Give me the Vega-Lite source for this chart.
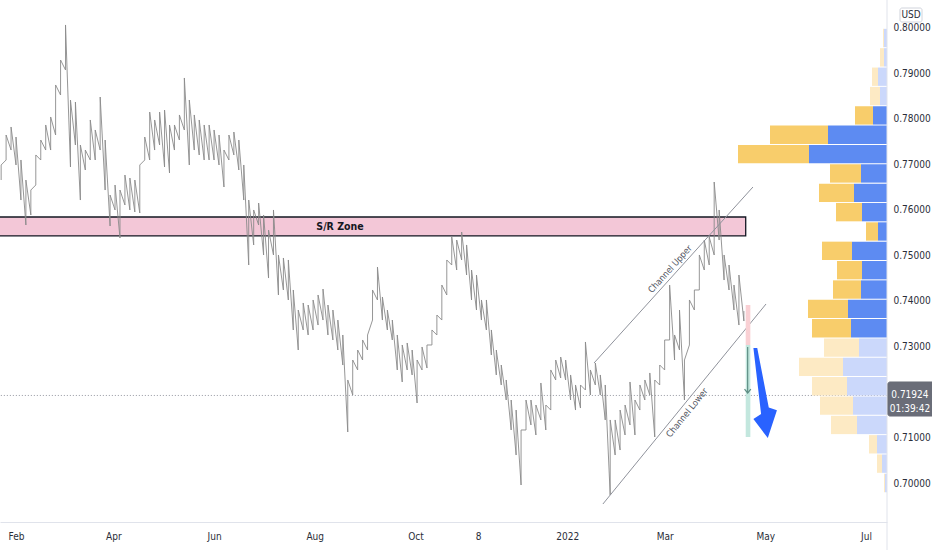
{
  "$schema": "https://vega.github.io/schema/vega-lite/v6.json",
  "width": 887,
  "height": 522,
  "autosize": {"type": "none"},
  "padding": {"left": 0, "top": 0, "right": 45, "bottom": 28},
  "background": "white",
  "config": {
    "view": {"stroke": null},
    "text": {"font": "DejaVu Sans Condensed, Roboto, sans-serif"},
    "axis": {"labelFont": "DejaVu Sans Condensed, Roboto, sans-serif"}
  },
  "datasets": {
    "price": [
      {"d": "2021-01-23", "lo": 0.76659, "hi": 0.76989},
      {"d": "2021-01-26", "lo": 0.77099, "hi": 0.77648},
      {"d": "2021-01-29", "lo": 0.77318, "hi": 0.77824},
      {"d": "2021-02-01", "lo": 0.76989, "hi": 0.77604},
      {"d": "2021-02-04", "lo": 0.76219, "hi": 0.77099},
      {"d": "2021-02-07", "lo": 0.75670, "hi": 0.76659},
      {"d": "2021-02-10", "lo": 0.75890, "hi": 0.76439},
      {"d": "2021-02-13", "lo": 0.76549, "hi": 0.77209},
      {"d": "2021-02-16", "lo": 0.77099, "hi": 0.77538},
      {"d": "2021-02-19", "lo": 0.77318, "hi": 0.77868},
      {"d": "2021-02-22", "lo": 0.77318, "hi": 0.78044},
      {"d": "2021-02-25", "lo": 0.77648, "hi": 0.78747},
      {"d": "2021-02-28", "lo": 0.78527, "hi": 0.79296},
      {"d": "2021-03-03", "lo": 0.79077, "hi": 0.80066},
      {"d": "2021-03-06", "lo": 0.76945, "hi": 0.78417},
      {"d": "2021-03-09", "lo": 0.77428, "hi": 0.78373},
      {"d": "2021-03-12", "lo": 0.76219, "hi": 0.77428},
      {"d": "2021-03-15", "lo": 0.76879, "hi": 0.77318},
      {"d": "2021-03-18", "lo": 0.77099, "hi": 0.77978},
      {"d": "2021-03-21", "lo": 0.77099, "hi": 0.77758},
      {"d": "2021-03-24", "lo": 0.77318, "hi": 0.78483},
      {"d": "2021-03-27", "lo": 0.76439, "hi": 0.77538},
      {"d": "2021-03-30", "lo": 0.75648, "hi": 0.76329},
      {"d": "2021-04-02", "lo": 0.76000, "hi": 0.76549},
      {"d": "2021-04-05", "lo": 0.75384, "hi": 0.76439},
      {"d": "2021-04-08", "lo": 0.76110, "hi": 0.76769},
      {"d": "2021-04-11", "lo": 0.76000, "hi": 0.76703},
      {"d": "2021-04-14", "lo": 0.75956, "hi": 0.76659},
      {"d": "2021-04-17", "lo": 0.75934, "hi": 0.76989},
      {"d": "2021-04-20", "lo": 0.77099, "hi": 0.77604},
      {"d": "2021-04-23", "lo": 0.77099, "hi": 0.78153},
      {"d": "2021-04-26", "lo": 0.77318, "hi": 0.77978},
      {"d": "2021-04-29", "lo": 0.77428, "hi": 0.78153},
      {"d": "2021-05-02", "lo": 0.76945, "hi": 0.78197},
      {"d": "2021-05-05", "lo": 0.76813, "hi": 0.77868},
      {"d": "2021-05-08", "lo": 0.77318, "hi": 0.77868},
      {"d": "2021-05-11", "lo": 0.77538, "hi": 0.78088},
      {"d": "2021-05-14", "lo": 0.77758, "hi": 0.78901},
      {"d": "2021-05-17", "lo": 0.76989, "hi": 0.78417},
      {"d": "2021-05-20", "lo": 0.77318, "hi": 0.78088},
      {"d": "2021-05-23", "lo": 0.77209, "hi": 0.77978},
      {"d": "2021-05-26", "lo": 0.77099, "hi": 0.77868},
      {"d": "2021-05-29", "lo": 0.77099, "hi": 0.77868},
      {"d": "2021-06-01", "lo": 0.77099, "hi": 0.77758},
      {"d": "2021-06-04", "lo": 0.76989, "hi": 0.77648},
      {"d": "2021-06-07", "lo": 0.76505, "hi": 0.77318},
      {"d": "2021-06-10", "lo": 0.77099, "hi": 0.77648},
      {"d": "2021-06-13", "lo": 0.77209, "hi": 0.77714},
      {"d": "2021-06-16", "lo": 0.76879, "hi": 0.77538},
      {"d": "2021-06-19", "lo": 0.76219, "hi": 0.76989},
      {"d": "2021-06-22", "lo": 0.74791, "hi": 0.76219},
      {"d": "2021-06-25", "lo": 0.75231, "hi": 0.76000},
      {"d": "2021-06-28", "lo": 0.75670, "hi": 0.76153},
      {"d": "2021-07-01", "lo": 0.75011, "hi": 0.75890},
      {"d": "2021-07-04", "lo": 0.74505, "hi": 0.75560},
      {"d": "2021-07-07", "lo": 0.75011, "hi": 0.76000},
      {"d": "2021-07-10", "lo": 0.74132, "hi": 0.75011},
      {"d": "2021-07-13", "lo": 0.74242, "hi": 0.74945},
      {"d": "2021-07-16", "lo": 0.74022, "hi": 0.74901},
      {"d": "2021-07-19", "lo": 0.73363, "hi": 0.74242},
      {"d": "2021-07-22", "lo": 0.72923, "hi": 0.73802},
      {"d": "2021-07-25", "lo": 0.73363, "hi": 0.73956},
      {"d": "2021-07-28", "lo": 0.73253, "hi": 0.73912},
      {"d": "2021-07-31", "lo": 0.73363, "hi": 0.74022},
      {"d": "2021-08-03", "lo": 0.73472, "hi": 0.74132},
      {"d": "2021-08-06", "lo": 0.73582, "hi": 0.74263},
      {"d": "2021-08-09", "lo": 0.73253, "hi": 0.73912},
      {"d": "2021-08-12", "lo": 0.73143, "hi": 0.73802},
      {"d": "2021-08-15", "lo": 0.72923, "hi": 0.73582},
      {"d": "2021-08-18", "lo": 0.72593, "hi": 0.73253},
      {"d": "2021-08-21", "lo": 0.71121, "hi": 0.72264},
      {"d": "2021-08-24", "lo": 0.71934, "hi": 0.72703},
      {"d": "2021-08-27", "lo": 0.72484, "hi": 0.72923},
      {"d": "2021-08-30", "lo": 0.72703, "hi": 0.73143},
      {"d": "2021-09-02", "lo": 0.72923, "hi": 0.73253},
      {"d": "2021-09-05", "lo": 0.73582, "hi": 0.74242},
      {"d": "2021-09-08", "lo": 0.74022, "hi": 0.74747},
      {"d": "2021-09-11", "lo": 0.73582, "hi": 0.74088},
      {"d": "2021-09-14", "lo": 0.73363, "hi": 0.73802},
      {"d": "2021-09-17", "lo": 0.73143, "hi": 0.73582},
      {"d": "2021-09-20", "lo": 0.72484, "hi": 0.73253},
      {"d": "2021-09-23", "lo": 0.72220, "hi": 0.73033},
      {"d": "2021-09-26", "lo": 0.72484, "hi": 0.73077},
      {"d": "2021-09-29", "lo": 0.72374, "hi": 0.72923},
      {"d": "2021-10-02", "lo": 0.71758, "hi": 0.72703},
      {"d": "2021-10-05", "lo": 0.72484, "hi": 0.72989},
      {"d": "2021-10-08", "lo": 0.72527, "hi": 0.73033},
      {"d": "2021-10-11", "lo": 0.73033, "hi": 0.73363},
      {"d": "2021-10-14", "lo": 0.73253, "hi": 0.73692},
      {"d": "2021-10-17", "lo": 0.73582, "hi": 0.74351},
      {"d": "2021-10-20", "lo": 0.74132, "hi": 0.74901},
      {"d": "2021-10-23", "lo": 0.74791, "hi": 0.75406},
      {"d": "2021-10-26", "lo": 0.74681, "hi": 0.75340},
      {"d": "2021-10-29", "lo": 0.74901, "hi": 0.75516},
      {"d": "2021-11-01", "lo": 0.74571, "hi": 0.75231},
      {"d": "2021-11-04", "lo": 0.74022, "hi": 0.74681},
      {"d": "2021-11-07", "lo": 0.73802, "hi": 0.74571},
      {"d": "2021-11-10", "lo": 0.73582, "hi": 0.74022},
      {"d": "2021-11-13", "lo": 0.73363, "hi": 0.74022},
      {"d": "2021-11-16", "lo": 0.72813, "hi": 0.73363},
      {"d": "2021-11-19", "lo": 0.72374, "hi": 0.72923},
      {"d": "2021-11-22", "lo": 0.72154, "hi": 0.72593},
      {"d": "2021-11-25", "lo": 0.71824, "hi": 0.72264},
      {"d": "2021-11-28", "lo": 0.71165, "hi": 0.71824},
      {"d": "2021-12-01", "lo": 0.70615, "hi": 0.71604},
      {"d": "2021-12-04", "lo": 0.69956, "hi": 0.71165},
      {"d": "2021-12-07", "lo": 0.71165, "hi": 0.71824},
      {"d": "2021-12-10", "lo": 0.71275, "hi": 0.71824},
      {"d": "2021-12-13", "lo": 0.71055, "hi": 0.71714},
      {"d": "2021-12-16", "lo": 0.71385, "hi": 0.72198},
      {"d": "2021-12-19", "lo": 0.71165, "hi": 0.71714},
      {"d": "2021-12-22", "lo": 0.71604, "hi": 0.72484},
      {"d": "2021-12-25", "lo": 0.72264, "hi": 0.72703},
      {"d": "2021-12-28", "lo": 0.72308, "hi": 0.72769},
      {"d": "2021-12-31", "lo": 0.72264, "hi": 0.72703},
      {"d": "2022-01-03", "lo": 0.71824, "hi": 0.72374},
      {"d": "2022-01-06", "lo": 0.71604, "hi": 0.72154},
      {"d": "2022-01-09", "lo": 0.71648, "hi": 0.72154},
      {"d": "2022-01-12", "lo": 0.72044, "hi": 0.73099},
      {"d": "2022-01-15", "lo": 0.71934, "hi": 0.72484},
      {"d": "2022-01-18", "lo": 0.72154, "hi": 0.72637},
      {"d": "2022-01-21", "lo": 0.71934, "hi": 0.72374},
      {"d": "2022-01-24", "lo": 0.71385, "hi": 0.72154},
      {"d": "2022-01-27", "lo": 0.69736, "hi": 0.71385},
      {"d": "2022-01-30", "lo": 0.70615, "hi": 0.71385},
      {"d": "2022-02-02", "lo": 0.70725, "hi": 0.71604},
      {"d": "2022-02-05", "lo": 0.71055, "hi": 0.71714},
      {"d": "2022-02-08", "lo": 0.71275, "hi": 0.72220},
      {"d": "2022-02-11", "lo": 0.71055, "hi": 0.71824},
      {"d": "2022-02-14", "lo": 0.71604, "hi": 0.72154},
      {"d": "2022-02-17", "lo": 0.71824, "hi": 0.72264},
      {"d": "2022-02-20", "lo": 0.71934, "hi": 0.72418},
      {"d": "2022-02-23", "lo": 0.71011, "hi": 0.72264},
      {"d": "2022-02-26", "lo": 0.72154, "hi": 0.72593},
      {"d": "2022-03-01", "lo": 0.72484, "hi": 0.73143},
      {"d": "2022-03-04", "lo": 0.73143, "hi": 0.74351},
      {"d": "2022-03-07", "lo": 0.72703, "hi": 0.73253},
      {"d": "2022-03-10", "lo": 0.72923, "hi": 0.73802},
      {"d": "2022-03-13", "lo": 0.71824, "hi": 0.72703},
      {"d": "2022-03-16", "lo": 0.73033, "hi": 0.74022},
      {"d": "2022-03-19", "lo": 0.73802, "hi": 0.74242},
      {"d": "2022-03-22", "lo": 0.74242, "hi": 0.75011},
      {"d": "2022-03-25", "lo": 0.74681, "hi": 0.75340},
      {"d": "2022-03-28", "lo": 0.74791, "hi": 0.75406},
      {"d": "2022-03-31", "lo": 0.75011, "hi": 0.76615},
      {"d": "2022-04-03", "lo": 0.75340, "hi": 0.76000},
      {"d": "2022-04-06", "lo": 0.74461, "hi": 0.75011},
      {"d": "2022-04-09", "lo": 0.74242, "hi": 0.74791},
      {"d": "2022-04-12", "lo": 0.73802, "hi": 0.74351},
      {"d": "2022-04-15", "lo": 0.73472, "hi": 0.74571},
      {"d": "2022-04-18", "lo": 0.73560, "hi": 0.73780}
    ],
    "profile": [
      {"lo": 0.79670, "hi": 0.80103, "buy": 3, "sell": 1, "va": false},
      {"lo": 0.79236, "hi": 0.79670, "buy": 3, "sell": 4, "va": false},
      {"lo": 0.78803, "hi": 0.79236, "buy": 9, "sell": 6, "va": false},
      {"lo": 0.78369, "hi": 0.78803, "buy": 7, "sell": 10, "va": false},
      {"lo": 0.77936, "hi": 0.78369, "buy": 14, "sell": 18, "va": true},
      {"lo": 0.77502, "hi": 0.77936, "buy": 59, "sell": 58, "va": true},
      {"lo": 0.77069, "hi": 0.77502, "buy": 78, "sell": 71, "va": true},
      {"lo": 0.76635, "hi": 0.77069, "buy": 26, "sell": 31, "va": true},
      {"lo": 0.76202, "hi": 0.76635, "buy": 33, "sell": 35, "va": true},
      {"lo": 0.75768, "hi": 0.76202, "buy": 25, "sell": 26, "va": true},
      {"lo": 0.75335, "hi": 0.75768, "buy": 9, "sell": 12, "va": true},
      {"lo": 0.74901, "hi": 0.75335, "buy": 35, "sell": 30, "va": true},
      {"lo": 0.74468, "hi": 0.74901, "buy": 25, "sell": 25, "va": true},
      {"lo": 0.74034, "hi": 0.74468, "buy": 26, "sell": 28, "va": true},
      {"lo": 0.73601, "hi": 0.74034, "buy": 39, "sell": 40, "va": true},
      {"lo": 0.73167, "hi": 0.73601, "buy": 36, "sell": 39, "va": true},
      {"lo": 0.72734, "hi": 0.73167, "buy": 28, "sell": 35, "va": false},
      {"lo": 0.72300, "hi": 0.72734, "buy": 44, "sell": 44, "va": false},
      {"lo": 0.71867, "hi": 0.72300, "buy": 40, "sell": 35, "va": false},
      {"lo": 0.71433, "hi": 0.71867, "buy": 34, "sell": 33, "va": false},
      {"lo": 0.71000, "hi": 0.71433, "buy": 30, "sell": 26, "va": false},
      {"lo": 0.70566, "hi": 0.71000, "buy": 10, "sell": 8, "va": false},
      {"lo": 0.70133, "hi": 0.70566, "buy": 5, "sell": 5, "va": false},
      {"lo": 0.69699, "hi": 0.70133, "buy": 2, "sell": 1, "va": false}
    ]
  },
  "resolve": {"scale": {"x": "independent", "y": "independent"}},
  "layer": [
    {
      "data": {"values": [{"d": "2021-01-01", "d2": "2022-04-19T02:30:00Z", "p": 0.75429, "p2": 0.75846}]},
      "mark": {"type": "rect", "fill": "#f3c7d7", "stroke": "#131722", "strokeWidth": 1.3, "clip": true},
      "encoding": {
        "x": {"field": "d", "type": "temporal", "axis": null, "scale": {"type": "utc", "domain": [{"year": 2021, "month": 1, "date": 22, "hours": 7, "minutes": 20, "utc": true}, {"year": 2022, "month": 7, "date": 13, "hours": 17, "utc": true}]}},
        "x2": {"field": "d2"},
        "y": {"field": "p", "type": "quantitative", "axis": null, "scale": {"domain": [0.69143, 0.80615], "zero": false, "nice": false}},
        "y2": {"field": "p2"}
      }
    },
    {
      "data": {"values": [{"d": "2021-08-16T07:00:00Z", "p": 0.75626, "label": "S/R Zone"}]},
      "mark": {"type": "text", "fontSize": 10.5, "fontWeight": "bold", "color": "#131722"},
      "encoding": {
        "x": {"field": "d", "type": "temporal", "axis": null, "scale": {"type": "utc", "domain": [{"year": 2021, "month": 1, "date": 22, "hours": 7, "minutes": 20, "utc": true}, {"year": 2022, "month": 7, "date": 13, "hours": 17, "utc": true}]}},
        "y": {"field": "p", "type": "quantitative", "axis": null, "scale": {"domain": [0.69143, 0.80615], "zero": false, "nice": false}},
        "text": {"field": "label"}
      }
    },
    {
      "data": {"values": [{"d": "2021-01-01", "d2": "2022-08-01", "p": 0.71924}]},
      "mark": {"type": "rule", "color": "#9598a1", "strokeWidth": 1, "strokeDash": [1, 2], "clip": true},
      "encoding": {
        "x": {"field": "d", "type": "temporal", "axis": null, "scale": {"type": "utc", "domain": [{"year": 2021, "month": 1, "date": 22, "hours": 7, "minutes": 20, "utc": true}, {"year": 2022, "month": 7, "date": 13, "hours": 17, "utc": true}]}},
        "x2": {"field": "d2"},
        "y": {"field": "p", "type": "quantitative", "axis": null, "scale": {"domain": [0.69143, 0.80615], "zero": false, "nice": false}}
      }
    },
    {
      "data": {"name": "price"},
      "transform": [{"fold": ["lo", "hi"], "as": ["t", "p"]}],
      "mark": {"type": "line", "color": "#8a8a8a", "strokeWidth": 0.9},
      "encoding": {
        "x": {
          "field": "d", "type": "temporal",
          "scale": {"type": "utc", "domain": [{"year": 2021, "month": 1, "date": 22, "hours": 7, "minutes": 20, "utc": true}, {"year": 2022, "month": 7, "date": 13, "hours": 17, "utc": true}]},
          "axis": {
            "title": null, "grid": false, "ticks": false,
            "domainColor": "#e0e3eb", "labelColor": "#2a2e39", "labelFontSize": 10,
            "labelPadding": 9, "labelOverlap": false, "labelFlush": false,
            "values": [
              {"year": 2021, "month": 2, "date": 1, "utc": true},
              {"year": 2021, "month": 4, "date": 1, "utc": true},
              {"year": 2021, "month": 6, "date": 1, "utc": true},
              {"year": 2021, "month": 8, "date": 1, "utc": true},
              {"year": 2021, "month": 10, "date": 1, "utc": true},
              {"year": 2021, "month": 11, "date": 8, "utc": true},
              {"year": 2022, "month": 1, "date": 1, "utc": true},
              {"year": 2022, "month": 3, "date": 1, "utc": true},
              {"year": 2022, "month": 5, "date": 1, "utc": true},
              {"year": 2022, "month": 7, "date": 1, "utc": true}
            ],
            "labelExpr": "utcmonth(datum.value) === 0 ? utcFormat(datum.value, '%Y') : (utcdate(datum.value) !== 1 ? utcFormat(datum.value, '%-d') : utcFormat(datum.value, '%b'))"
          }
        },
        "y": {
          "field": "p", "type": "quantitative",
          "scale": {"domain": [0.69143, 0.80615], "zero": false, "nice": false},
          "axis": {
            "orient": "right", "title": null, "grid": false, "ticks": false,
            "domain": false, "labelColor": "#2a2e39", "labelFontSize": 10,
            "labelPadding": 6, "labelAlign": "left", "labelBaseline": "middle", "format": ".5f",
            "labelOverlap": false,
            "values": [0.70, 0.71, 0.73, 0.74, 0.75, 0.76, 0.77, 0.78, 0.79, 0.80]
          }
        }
      }
    },
    {
      "data": {"values": [
        {"d": "2022-01-17T05:00:00Z", "d2": "2022-04-23T12:00:00Z", "p": 0.72637, "p2": 0.76505},
        {"d": "2022-01-22T14:00:00Z", "d2": "2022-05-01T10:00:00Z", "p": 0.69538, "p2": 0.73934}
      ]},
      "mark": {"type": "rule", "color": "#8f929b", "strokeWidth": 1},
      "encoding": {
        "x": {"field": "d", "type": "temporal", "axis": null, "scale": {"type": "utc", "domain": [{"year": 2021, "month": 1, "date": 22, "hours": 7, "minutes": 20, "utc": true}, {"year": 2022, "month": 7, "date": 13, "hours": 17, "utc": true}]}},
        "x2": {"field": "d2"},
        "y": {"field": "p", "type": "quantitative", "axis": null, "scale": {"domain": [0.69143, 0.80615], "zero": false, "nice": false}},
        "y2": {"field": "p2"}
      }
    },
    {
      "data": {"values": [{"d": "2022-03-04T05:00:00Z", "p": 0.74703, "label": "Channel Upper"}]},
      "mark": {"type": "text", "fontSize": 9, "angle": 312, "color": "#50535e"},
      "encoding": {
        "x": {"field": "d", "type": "temporal", "axis": null, "scale": {"type": "utc", "domain": [{"year": 2021, "month": 1, "date": 22, "hours": 7, "minutes": 20, "utc": true}, {"year": 2022, "month": 7, "date": 13, "hours": 17, "utc": true}]}},
        "y": {"field": "p", "type": "quantitative", "axis": null, "scale": {"domain": [0.69143, 0.80615], "zero": false, "nice": false}},
        "text": {"field": "label"}
      }
    },
    {
      "data": {"values": [{"d": "2022-03-14T12:00:00Z", "p": 0.71545, "label": "Channel Lower"}]},
      "mark": {"type": "text", "fontSize": 9, "angle": 309, "color": "#50535e"},
      "encoding": {
        "x": {"field": "d", "type": "temporal", "axis": null, "scale": {"type": "utc", "domain": [{"year": 2021, "month": 1, "date": 22, "hours": 7, "minutes": 20, "utc": true}, {"year": 2022, "month": 7, "date": 13, "hours": 17, "utc": true}]}},
        "y": {"field": "p", "type": "quantitative", "axis": null, "scale": {"domain": [0.69143, 0.80615], "zero": false, "nice": false}},
        "text": {"field": "label"}
      }
    },
    {
      "data": {"values": [
        {"d": "2022-04-19T02:30:00Z", "d2": "2022-04-21T22:00:00Z", "p": 0.73033, "p2": 0.73912, "kind": "risk"},
        {"d": "2022-04-19T02:30:00Z", "d2": "2022-04-21T22:00:00Z", "p": 0.71011, "p2": 0.73033, "kind": "reward"}
      ]},
      "mark": {"type": "rect"},
      "encoding": {
        "x": {"field": "d", "type": "temporal", "axis": null, "scale": {"type": "utc", "domain": [{"year": 2021, "month": 1, "date": 22, "hours": 7, "minutes": 20, "utc": true}, {"year": 2022, "month": 7, "date": 13, "hours": 17, "utc": true}]}},
        "x2": {"field": "d2"},
        "y": {"field": "p", "type": "quantitative", "axis": null, "scale": {"domain": [0.69143, 0.80615], "zero": false, "nice": false}},
        "y2": {"field": "p2"},
        "color": {"condition": {"test": "datum.kind === 'risk'", "value": "#f9d0d4"}, "value": "#c3e7de"}
      }
    },
    {
      "data": {"values": [{"d": "2022-04-20T07:00:00Z", "p": 0.72989, "p2": 0.71978}]},
      "mark": {"type": "rule", "color": "#5e8d84", "strokeWidth": 1.2},
      "encoding": {
        "x": {"field": "d", "type": "temporal", "axis": null, "scale": {"type": "utc", "domain": [{"year": 2021, "month": 1, "date": 22, "hours": 7, "minutes": 20, "utc": true}, {"year": 2022, "month": 7, "date": 13, "hours": 17, "utc": true}]}},
        "y": {"field": "p", "type": "quantitative", "axis": null, "scale": {"domain": [0.69143, 0.80615], "zero": false, "nice": false}},
        "y2": {"field": "p2"}
      }
    },
    {
      "data": {"values": [{"d": "2022-04-20T07:00:00Z", "p": 0.72020}]},
      "mark": {"type": "point", "shape": "M-1,-0.6L0,0.6L1,-0.6", "filled": false, "size": 40, "color": "#5e8d84", "strokeWidth": 1.2, "opacity": 1},
      "encoding": {
        "x": {"field": "d", "type": "temporal", "axis": null, "scale": {"type": "utc", "domain": [{"year": 2021, "month": 1, "date": 22, "hours": 7, "minutes": 20, "utc": true}, {"year": 2022, "month": 7, "date": 13, "hours": 17, "utc": true}]}},
        "y": {"field": "p", "type": "quantitative", "axis": null, "scale": {"domain": [0.69143, 0.80615], "zero": false, "nice": false}}
      }
    },
    {
      "data": {"values": [{"d": "2022-04-29T14:00:00Z", "p": 0.71978}]},
      "mark": {"type": "point", "shape": "M-0.2,-0.94L-0.12,-0.94L0.12,0.3L0.29,0.36L0.1,0.94L-0.2,0.54L-0.04,0.44Z", "filled": true, "size": 9216, "color": "#2962ff", "opacity": 1, "strokeWidth": 0},
      "encoding": {
        "x": {"field": "d", "type": "temporal", "axis": null, "scale": {"type": "utc", "domain": [{"year": 2021, "month": 1, "date": 22, "hours": 7, "minutes": 20, "utc": true}, {"year": 2022, "month": 7, "date": 13, "hours": 17, "utc": true}]}},
        "y": {"field": "p", "type": "quantitative", "axis": null, "scale": {"domain": [0.69143, 0.80615], "zero": false, "nice": false}}
      }
    },
    {
      "data": {"name": "profile"},
      "transform": [{"fold": ["buy", "sell"], "as": ["key", "v"]}],
      "mark": {"type": "bar", "orient": "horizontal", "y2Offset": 1},
      "encoding": {
        "x": {"field": "v", "type": "quantitative", "stack": "zero", "axis": null, "scale": {"domain": [0, 887], "reverse": true, "nice": false, "zero": true}},
        "y": {"field": "lo", "type": "quantitative", "axis": null, "scale": {"domain": [0.69143, 0.80615], "zero": false, "nice": false}},
        "y2": {"field": "hi"},
        "order": {"field": "key", "sort": "ascending"},
        "color": {
          "condition": [
            {"test": "datum.va && datum.key === 'buy'", "value": "#5d8bf2"},
            {"test": "datum.va", "value": "#f8cd6b"},
            {"test": "datum.key === 'buy'", "value": "#cbd8fb"}
          ],
          "value": "#fdeac4"
        }
      }
    },
    {
      "data": {"values": [{"d": "2022-07-13T17:00:00Z", "p": 0.80615, "p2": 0.685}]},
      "mark": {"type": "rule", "color": "#e0e3eb", "strokeWidth": 1},
      "encoding": {
        "x": {"field": "d", "type": "temporal", "axis": null, "scale": {"type": "utc", "domain": [{"year": 2021, "month": 1, "date": 22, "hours": 7, "minutes": 20, "utc": true}, {"year": 2022, "month": 7, "date": 13, "hours": 17, "utc": true}]}},
        "y": {"field": "p", "type": "quantitative", "axis": null, "scale": {"domain": [0.69143, 0.80615], "zero": false, "nice": false}},
        "y2": {"field": "p2"}
      }
    },
    {
      "data": {"values": [
        {"d": "2022-07-14T07:00:00Z", "d2": "2022-08-15", "p": 0.71472, "p2": 0.72220, "kind": "price"},
        {"d": "2022-07-21T14:00:00Z", "d2": "2022-08-03T22:00:00Z", "p": 0.80131, "p2": 0.80439, "kind": "unit"}
      ]},
      "mark": {"type": "rect", "cornerRadius": 2, "strokeWidth": 1},
      "encoding": {
        "x": {"field": "d", "type": "temporal", "axis": null, "scale": {"type": "utc", "domain": [{"year": 2021, "month": 1, "date": 22, "hours": 7, "minutes": 20, "utc": true}, {"year": 2022, "month": 7, "date": 13, "hours": 17, "utc": true}]}},
        "x2": {"field": "d2"},
        "y": {"field": "p", "type": "quantitative", "axis": null, "scale": {"domain": [0.69143, 0.80615], "zero": false, "nice": false}},
        "y2": {"field": "p2"},
        "fill": {"condition": {"test": "datum.kind === 'price'", "value": "#6a6d78"}, "value": "#ffffff"},
        "stroke": {"condition": {"test": "datum.kind === 'price'", "value": "#6a6d78"}, "value": "#d1d4dc"}
      }
    },
    {
      "data": {"values": [
        {"d": "2022-07-27T14:00:00Z", "p": 0.71934, "label": "0.71924", "kind": "price"},
        {"d": "2022-07-27T14:00:00Z", "p": 0.71626, "label": "01:39:42", "kind": "price"},
        {"d": "2022-07-28T07:00:00Z", "p": 0.80285, "label": "USD", "kind": "unit"}
      ]},
      "mark": {"type": "text", "fontSize": 10, "align": "center", "baseline": "middle"},
      "encoding": {
        "x": {"field": "d", "type": "temporal", "axis": null, "scale": {"type": "utc", "domain": [{"year": 2021, "month": 1, "date": 22, "hours": 7, "minutes": 20, "utc": true}, {"year": 2022, "month": 7, "date": 13, "hours": 17, "utc": true}]}},
        "y": {"field": "p", "type": "quantitative", "axis": null, "scale": {"domain": [0.69143, 0.80615], "zero": false, "nice": false}},
        "text": {"field": "label"},
        "color": {"condition": {"test": "datum.kind === 'price'", "value": "#ffffff"}, "value": "#2a2e39"}
      }
    }
  ]
}
